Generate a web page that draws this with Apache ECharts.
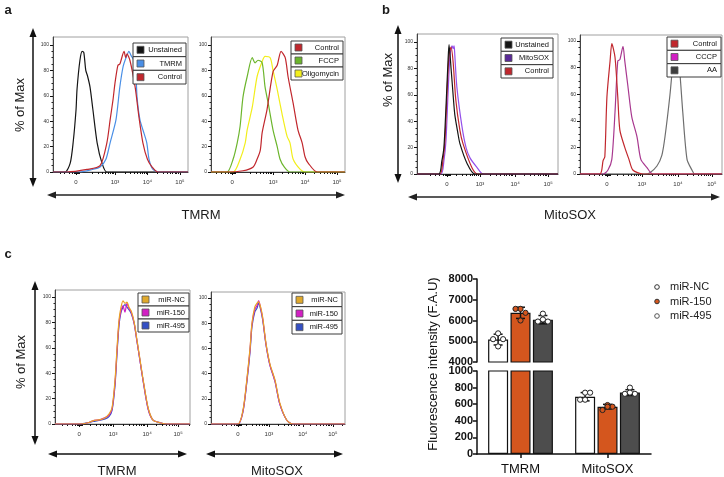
<!DOCTYPE html>
<html><head><meta charset="utf-8">
<script src="https://cdn.jsdelivr.net/npm/echarts@6/dist/echarts.min.js"></script>
<style>html,body{margin:0;padding:0;background:#fff}#c{width:724px;height:477px}</style>
</head><body><div id="c"></div>
<script>
// ================= DATA =================
// x values are positions on the biexponential fluorescence axis (10^3 = 3, 10^4 = 4, 10^5 = 5); y = % of Max
const xTickLabels = ['0', '10³', '10⁴', '10⁵'];
const yTickValues = [0, 20, 40, 60, 80, 100];

// Panel a, left (TMRM)
const aL_unstained = [[1.09,0],[1.46,0],[1.62,7],[1.71,23],[1.80,49],[1.83,65],[1.92,88],[1.99,95],[2.04,94],[2.10,80],[2.15,76],[2.23,67],[2.32,49],[2.45,23],[2.60,7],[2.75,0],[5.25,0]];
const aL_tmrm = [[1.09,0],[1.92,0],[2.3,2],[2.54,4],[2.72,10],[2.85,23],[3.03,41],[3.15,67],[3.25,83],[3.34,90],[3.43,95],[3.49,92],[3.62,86],[3.68,59],[3.77,41],[3.9,30],[3.98,23],[4.05,10],[4.17,2],[4.38,0],[5.25,0]];
const aL_control = [[1.09,0],[1.52,0],[2.14,2],[2.54,5],[2.75,23],[2.85,41],[2.94,57],[3.0,70],[3.09,84],[3.15,85],[3.28,95],[3.33,90],[3.37,93],[3.46,88],[3.62,67],[3.74,43],[3.86,23],[4.0,10],[4.14,4],[4.32,0],[5.25,0]];
// Panel a, right
const aR_control = [[1.06,0],[1.56,0],[2.06,1],[2.38,4],[2.5,10],[2.6,17],[2.66,31],[2.81,49],[3.0,79],[3.13,84],[3.25,95],[3.38,90],[3.47,75],[3.63,54],[3.78,33],[3.91,23],[4.0,12],[4.1,7],[4.38,0],[5.25,0]];
const aR_fccp = [[1.06,0],[1.56,0],[1.75,10],[1.88,23],[1.97,36],[2.06,59],[2.19,75],[2.35,90],[2.44,86],[2.53,88],[2.66,86],[2.75,67],[2.85,54],[3.0,33],[3.13,20],[3.22,10],[3.35,4],[3.53,0],[5.25,0]];
const aR_oligo = [[1.06,0],[1.75,0],[1.97,10],[2.13,23],[2.19,33],[2.35,51],[2.5,75],[2.66,87],[2.75,91],[2.91,90],[3.0,80],[3.13,65],[3.28,46],[3.44,28],[3.53,23],[3.63,10],[3.85,2],[4.0,0],[5.25,0]];
// Panel b, left (MitoSOX)
const bL_unstained = [[1.15,0],[1.79,0],[1.88,10],[1.94,20],[2.0,50],[2.06,85],[2.09,98],[2.15,80],[2.21,60],[2.26,45],[2.35,31],[2.41,23],[2.62,8],[2.85,0],[5.29,0]];
const bL_mitosox = [[1.15,0],[1.85,0],[1.94,10],[2.0,25],[2.06,60],[2.12,90],[2.18,97],[2.21,95],[2.24,97],[2.26,90],[2.32,66],[2.47,36],[2.59,20],[2.71,12],[2.91,5],[3.09,0],[5.29,0]];
const bL_control = [[1.15,0],[1.82,0],[1.91,10],[1.97,25],[2.03,60],[2.09,90],[2.15,96],[2.21,85],[2.29,56],[2.41,33],[2.5,23],[2.76,5],[2.94,0],[5.29,0]];
// Panel b, right
const bR_control = [[1.23,0],[1.8,0],[1.89,10],[1.94,13],[2.0,58],[2.09,85],[2.14,98],[2.23,88],[2.31,58],[2.37,33],[2.51,20],[2.63,11],[2.74,3],[3.03,0],[5.29,0]];
const bR_cccp = [[1.23,0],[1.89,0],[2.03,3],[2.14,11],[2.23,46],[2.31,85],[2.37,86],[2.46,96],[2.51,85],[2.6,66],[2.71,43],[2.86,28],[2.97,11],[3.14,5],[3.31,0],[5.29,0]];
const bR_aa = [[1.23,0],[3.1,0],[3.23,1],[3.43,6],[3.57,14],[3.66,28],[3.8,59],[3.89,84],[3.97,98],[4.06,84],[4.17,46],[4.29,11],[4.43,3],[4.51,0],[5.29,0]];
// Panel c, left (TMRM)
const cL_nc = [[1.24,0],[2.0,0],[2.24,1],[2.39,2.5],[2.61,3.5],[2.76,5],[2.88,8],[2.97,13],[3.06,35],[3.12,60],[3.18,82],[3.24,92],[3.30,97],[3.36,95],[3.42,96],[3.48,92],[3.55,89],[3.64,80],[3.73,65],[3.82,50],[3.91,35],[4.06,13],[4.21,3],[4.42,1],[4.64,0],[5.33,0]];
const cL_150 = [[1.24,0],[2.0,0],[2.24,1],[2.39,2.5],[2.61,3.5],[2.76,5],[2.88,7],[2.97,12],[3.06,33],[3.12,58],[3.18,80],[3.24,89],[3.30,93],[3.36,88],[3.42,95],[3.48,91],[3.55,88],[3.64,79],[3.73,64],[3.82,49],[3.91,34],[4.06,12],[4.21,3],[4.42,1],[4.64,0],[5.33,0]];
const cL_495 = [[1.24,0],[2.0,0],[2.24,1],[2.39,2],[2.61,3],[2.76,4],[2.88,6],[2.97,11],[3.06,31],[3.12,56],[3.18,78],[3.24,88],[3.30,92],[3.36,94],[3.42,92],[3.48,90],[3.55,87],[3.64,79],[3.73,64],[3.82,49],[3.91,34],[4.06,12],[4.21,3],[4.42,1],[4.64,0],[5.33,0]];
// Panel c, right (MitoSOX)
const cR_nc = [[1.19,0],[2.03,0],[2.19,11],[2.31,35],[2.41,60],[2.47,80],[2.56,93],[2.63,96],[2.68,97],[2.75,92],[2.81,84],[2.91,64],[3.03,48],[3.19,35],[3.34,17],[3.56,3],[3.75,0],[5.38,0]];
const cR_150 = [[1.19,0],[2.03,0],[2.19,10],[2.31,34],[2.41,59],[2.47,79],[2.56,91],[2.63,94],[2.68,98],[2.75,91],[2.81,83],[2.91,63],[3.03,47],[3.19,34],[3.34,16],[3.56,3],[3.75,0],[5.38,0]];
const cR_495 = [[1.19,0],[2.03,0],[2.19,10],[2.31,33],[2.41,57],[2.47,77],[2.56,89],[2.63,92],[2.68,96],[2.75,90],[2.81,82],[2.91,63],[3.03,47],[3.19,34],[3.34,16],[3.56,3],[3.75,0],[5.38,0]];

// Bar chart (Fluorescence intensity, F.A.U)
const barCategories = ['TMRM', 'MitoSOX'];
const groupNames = ['miR-NC', 'miR-150', 'miR-495'];
const ncMean = [5080, 690];
const m150Mean = [6370, 570];
const m495Mean = [6040, 740];
const ncSD = [260, 50];
const m150SD = [270, 28];
const m495SD = [200, 35];
const ncPoints = [[5380, 5100, 5100, 4750], [739, 654, 739, 654]];
const m150Points = [[6560, 6560, 6370, 6000], [590, 530, 570, 570]];
const m495Points = [[6330, 5950, 5950, 6050], [800, 725, 725, 740]];
const upperTicks = [4000, 8000, 1000];   // min, max, interval
const lowerTicks = [0, 1000, 200];

// ================= LAYOUT / STYLE =================
const FONT = 'Liberation Sans, Arial, Helvetica, sans-serif';
const C = {
  black: '#151515', tmrm: '#4a8fe6', red: '#c1272d', green: '#6cb52d', yellow: '#f2ee1c',
  purple: '#9450ea', purpleSw: '#5b2a98', magenta: '#a8388f', magentaSw: '#d21fc3', gray: '#6e6e6e', graySw: '#3d3d3d',
  orange: '#e9a126', orangeSw: '#e0a92c', mag2: '#d21fc3', blue: '#3550c4'
};

const panels = [
  { left:53, top:37, w:135, h:135, xMin:1.09, xMax:5.25, ticks:[1.8,3,4,5], yMax:106.3,
    series:[['Unstained',aL_unstained,C.black],['TMRM',aL_tmrm,C.tmrm],['Control',aL_control,C.red]],
    leg:{x:133,y:43,w:53,h:41,items:[['Unstained',C.black],['TMRM',C.tmrm],['Control',C.red]]} },
  { left:211, top:37, w:134, h:135, xMin:1.06, xMax:5.25, ticks:[1.72,3,4,5], yMax:106.3,
    series:[['Oligomycin',aR_oligo,C.yellow],['FCCP',aR_fccp,C.green],['Control',aR_control,C.red]],
    leg:{x:291,y:41,w:52,h:39,items:[['Control',C.red],['FCCP',C.green],['Oligomycin',C.yellow]]} },
  { left:417, top:34, w:141, h:140, xMin:1.15, xMax:5.29, ticks:[2.03,3,4.03,5], yMax:106,
    series:[['MitoSOX',bL_mitosox,C.purple],['Control',bL_control,C.red],['Unstained',bL_unstained,C.black]],
    leg:{x:501,y:38,w:52,h:40,items:[['Unstained',C.black],['MitoSOX',C.purpleSw],['Control',C.red]]} },
  { left:580, top:35, w:142, h:139, xMin:1.23, xMax:5.29, ticks:[2.0,3,4.03,5], yMax:104.5,
    series:[['AA',bR_aa,C.gray],['CCCP',bR_cccp,C.magenta],['Control',bR_control,C.red]],
    leg:{x:667,y:37,w:54,h:40,items:[['Control',C.red],['CCCP',C.magentaSw],['AA',C.graySw]]} },
  { left:55, top:290, w:135, h:134, xMin:1.24, xMax:5.33, ticks:[1.97,3,4.03,4.97], yMax:105.5,
    series:[['miR-495',cL_495,C.blue],['miR-150',cL_150,C.mag2],['miR-NC',cL_nc,C.orange]],
    leg:{x:138,y:293,w:51,h:39,items:[['miR-NC',C.orangeSw],['miR-150',C.mag2],['miR-495',C.blue]]} },
  { left:211, top:292, w:134, h:132, xMin:1.19, xMax:5.38, ticks:[2.03,3,4.06,5], yMax:104.8,
    series:[['miR-495',cR_495,C.blue],['miR-150',cR_150,C.mag2],['miR-NC',cR_nc,C.orange]],
    leg:{x:292,y:293,w:50,h:41,items:[['miR-NC',C.orangeSw],['miR-150',C.mag2],['miR-495',C.blue]]} }
];

const grids = [], xAxes = [], yAxes = [], series = [], graphics = [];

function minorX(p) {
  const v = [];
  for (let d = 3; d <= 5; d++) for (let k = 2; k <= 9; k++) v.push(d + Math.log10(k));
  for (let k = 2; k <= 9; k++) v.push(2 + Math.log10(k));
  const z = p.ticks[0];
  [-0.5, -0.35, -0.22, -0.12, -0.06, -0.03, 0.03, 0.06, 0.1].forEach(o => v.push(z + o));
  return v.filter(x => x > p.xMin && x < p.xMax && x > z - 0.6 && !p.ticks.some(t => Math.abs(t - x) < 0.02))
          .filter(x => !(x > z + 0.1 && x < 2.3));
}

panels.forEach((p) => {
  const gi = grids.length;
  grids.push({ left:p.left, top:p.top, width:p.w, height:p.h, show:true, borderColor:'#a0a0a0', borderWidth:1, backgroundColor:'#fff' });
  const xi = xAxes.length, yi = yAxes.length;
  xAxes.push({ gridIndex:gi, type:'value', position:'bottom', min:p.xMin, max:p.xMax, splitLine:{show:false},
    axisLine:{show:true, onZero:false, lineStyle:{color:'#333', width:1}},
    axisTick:{show:true, customValues:p.ticks, length:3, lineStyle:{color:'#111', width:1}},
    axisLabel:{show:true, customValues:p.ticks, fontSize:6, color:'#333', fontFamily:FONT, margin:7,
      formatter:(v) => { const i = p.ticks.findIndex(t => Math.abs(t - v) < 1e-6); return i >= 0 ? xTickLabels[i] : ''; } } });
  xAxes.push({ gridIndex:gi, type:'value', position:'bottom', min:p.xMin, max:p.xMax, splitLine:{show:false}, axisLine:{show:false, onZero:false},
    axisTick:{show:true, customValues:minorX(p), length:2, lineStyle:{color:'#111', width:1}}, axisLabel:{show:false} });
  yAxes.push({ gridIndex:gi, type:'value', position:'left', min:0, max:p.yMax, splitLine:{show:false},
    axisLine:{show:true, onZero:false, lineStyle:{color:'#444', width:1}},
    axisTick:{show:true, customValues:yTickValues, length:3, lineStyle:{color:'#111', width:1}},
    axisLabel:{show:true, customValues:yTickValues, fontSize:5, color:'#333', fontFamily:FONT, margin:4} });
  const mv = []; for (let v = 5; v < 100; v += 5) if (v % 20) mv.push(v);
  yAxes.push({ gridIndex:gi, type:'value', position:'left', min:0, max:p.yMax, splitLine:{show:false}, axisLine:{show:false, onZero:false},
    axisTick:{show:true, customValues:mv, length:1.5, lineStyle:{color:'#222', width:1}}, axisLabel:{show:false} });
  p.series.forEach(([name, data, color]) => {
    series.push({ type:'line', name, xAxisIndex:xi, yAxisIndex:yi, data, showSymbol:false, symbol:'none',
      smooth:0.25, lineStyle:{color, width:1.2}, clip:true, silent:true, z:3 });
  });
  // legend table
  const L = p.leg, rh = L.h / 3;
  L.items.forEach(([name, color], i) => {
    const y = L.y + i * rh;
    graphics.push({ type:'rect', z:100, shape:{x:L.x, y, width:L.w, height:rh}, style:{fill:'#fff', stroke:'#3a3a3a', lineWidth:1} });
    graphics.push({ type:'rect', z:101, shape:{x:L.x + 4, y:y + rh/2 - 3.5, width:7, height:7}, style:{fill:color, stroke:'#555', lineWidth:0.8} });
    graphics.push({ type:'text', z:101, style:{text:name, x:L.x + L.w - 4, y:y + rh/2, align:'right', verticalAlign:'middle', font:'7.5px ' + FONT, fill:'#111'} });
  });
});

// ---- broken-axis bar chart ----
const gU = grids.length;
grids.push({ left:477, top:279, width:174, height:83 });
const gL = grids.length;
grids.push({ left:477, top:371, width:174, height:83 });
const xU = xAxes.length;
xAxes.push({ gridIndex:gU, type:'category', data:barCategories, axisLine:{show:false}, axisTick:{show:false}, axisLabel:{show:false} });
const xL = xAxes.length;
xAxes.push({ gridIndex:gL, type:'category', data:barCategories, axisLine:{show:true, lineStyle:{color:'#111', width:1.5}},
  axisTick:{show:true, alignWithLabel:true, length:4, lineStyle:{color:'#111', width:1.5}},
  axisLabel:{fontSize:13, color:'#111', fontFamily:FONT, margin:9} });
const yLabel = {fontSize:11, fontWeight:'bold', color:'#111', fontFamily:FONT, margin:4, formatter:(v) => String(v)};
const yU = yAxes.length;
yAxes.push({ gridIndex:gU, type:'value', min:upperTicks[0], max:upperTicks[1], interval:upperTicks[2], splitLine:{show:false},
  axisLine:{show:true, lineStyle:{color:'#111', width:1.5}}, axisTick:{show:true, length:4, lineStyle:{color:'#111', width:1.5}},
  axisLabel:yLabel });
const yL = yAxes.length;
yAxes.push({ gridIndex:gL, type:'value', min:lowerTicks[0], max:lowerTicks[1], interval:lowerTicks[2], splitLine:{show:false},
  axisLine:{show:true, lineStyle:{color:'#111', width:1.5}}, axisTick:{show:true, length:4, lineStyle:{color:'#111', width:1.5}},
  axisLabel:yLabel });

const means = [ncMean, m150Mean, m495Mean], sds = [ncSD, m150SD, m495SD], pts = [ncPoints, m150Points, m495Points];
const barFill = ['#ffffff', '#d4561e', '#4d4d4d'];
const ptFill = ['#ffffff', '#d4561e', '#ffffff'];
const BW = 20, GAP = 2.4;
const jitter = [0, -5, 5, 0];
[[gU, xU, yU, upperTicks[0]], [gL, xL, yL, -Infinity]].forEach(([g, xi, yi, lo], part) => {
  means.forEach((m, k) => {
    series.push({ type:'bar', name:groupNames[k], xAxisIndex:xi, yAxisIndex:yi, barWidth:BW, barGap:'12%', clip:true,
      data: m.map(v => (part === 0 ? (v >= lo ? v : '-') : v)),
      itemStyle:{color:barFill[k], borderColor:'#111', borderWidth:1.2}, silent:true, z:2 });
  });
  means.forEach((m, k) => {
    const off = (k - 1) * (BW + GAP);
    const hi = part === 0 ? upperTicks[1] : lowerTicks[1];
    const loV = part === 0 ? upperTicks[0] : lowerTicks[0];
    const items = [];
    m.forEach((v, c) => { if (v >= loV && v <= hi) items.push([c, v, sds[k][c]]); });
    series.push({ type:'custom', xAxisIndex:xi, yAxisIndex:yi, data:items, silent:true, z:5, clip:false,
      renderItem:(params, api) => {
        const c = api.value(0), v = api.value(1), s = api.value(2);
        const top = api.coord([c, v + s]), bot = api.coord([c, v - s]);
        const x = top[0] + off;
        return { type:'group', children:[
          { type:'line', shape:{x1:x, y1:top[1], x2:x, y2:bot[1]}, style:{stroke:'#111', lineWidth:1.5} },
          { type:'line', shape:{x1:x-4.5, y1:top[1], x2:x+4.5, y2:top[1]}, style:{stroke:'#111', lineWidth:1.5} },
          { type:'line', shape:{x1:x-4.5, y1:bot[1], x2:x+4.5, y2:bot[1]}, style:{stroke:'#111', lineWidth:1.5} }
        ]};
      } });
    const pitems = [];
    pts[k].forEach((arr, c) => arr.forEach((v, j) => { if (v >= loV && v <= hi) pitems.push([c, v, j]); }));
    series.push({ type:'custom', xAxisIndex:xi, yAxisIndex:yi, data:pitems, silent:true, z:6, clip:false,
      renderItem:(params, api) => {
        const c = api.value(0), v = api.value(1), j = api.value(2);
        const p = api.coord([c, v]);
        return { type:'circle', shape:{cx:p[0] + off + jitter[j], cy:p[1], r:2.6}, style:{fill:ptFill[k], stroke:'#222', lineWidth:1} };
      } });
  });
});

// bar chart legend
const legSym = [['#fff', '#333'], ['#d4561e', '#333'], ['#fff', '#555']];
groupNames.forEach((n, i) => {
  const y = 287 + i * 14.5;
  graphics.push({ type:'circle', shape:{cx:657, cy:y, r:2.3}, style:{fill:legSym[i][0], stroke:legSym[i][1], lineWidth:1} });
  graphics.push({ type:'text', style:{text:n, x:670, y, verticalAlign:'middle', font:'11px ' + FONT, fill:'#222'} });
});
graphics.push({ type:'text', rotation:Math.PI/2, x:433, y:364, style:{text:'Fluorescence intensity (F.A.U)', align:'center', verticalAlign:'middle', font:'13px ' + FONT, fill:'#111'} });

// ---- arrows, labels ----
function arrow(x1, y1, x2, y2, col) {
  const dx = x2 - x1, dy = y2 - y1, L = Math.hypot(dx, dy), ux = dx / L, uy = dy / L, px = -uy, py = ux, h = 9, w = 3.5;
  graphics.push({ type:'line', shape:{x1:x1 + ux*5, y1:y1 + uy*5, x2:x2 - ux*5, y2:y2 - uy*5}, style:{stroke:col, lineWidth:1.5} });
  graphics.push({ type:'polygon', shape:{points:[[x2, y2], [x2 - ux*h + px*w, y2 - uy*h + py*w], [x2 - ux*h - px*w, y2 - uy*h - py*w]]}, style:{fill:col} });
  graphics.push({ type:'polygon', shape:{points:[[x1, y1], [x1 + ux*h + px*w, y1 + uy*h + py*w], [x1 + ux*h - px*w, y1 + uy*h - py*w]]}, style:{fill:col} });
}
arrow(33, 28, 33, 187, '#111');
arrow(47, 195, 345, 195, '#222');
arrow(398, 25, 398, 183, '#111');
arrow(408, 197, 720, 197, '#222');
arrow(35, 281, 35, 445, '#111');
arrow(48, 454, 187, 454, '#111');
arrow(206, 454, 343, 454, '#111');

function txt(t, x, y, size, opts) {
  graphics.push(Object.assign({ type:'text', x, y, style:{ text:t, align:'center', verticalAlign:'middle', font:size + 'px ' + FONT, fill:'#1a1a1a' } }, opts || {}));
}
txt('a', 8, 10, 13, {}); graphics[graphics.length-1].style.font = 'bold 13px ' + FONT;
txt('b', 386, 10, 13, {}); graphics[graphics.length-1].style.font = 'bold 13px ' + FONT;
txt('c', 8, 254, 13, {}); graphics[graphics.length-1].style.font = 'bold 13px ' + FONT;
txt('% of Max', 20, 105, 13, { rotation:Math.PI/2 });
txt('% of Max', 388, 80, 13, { rotation:Math.PI/2 });
txt('% of Max', 21, 362, 13, { rotation:Math.PI/2 });
txt('TMRM', 201, 215, 13);
txt('MitoSOX', 570, 215, 13);
txt('TMRM', 117, 471, 13);
txt('MitoSOX', 277, 471, 13);

const chart = echarts.init(document.getElementById('c'), null, { renderer:'canvas' });
chart.setOption({
  animation:false, backgroundColor:'#fff', textStyle:{fontFamily:FONT},
  grid:grids, xAxis:xAxes, yAxis:yAxes, series, graphic:{elements:graphics}
});
</script></body></html>
